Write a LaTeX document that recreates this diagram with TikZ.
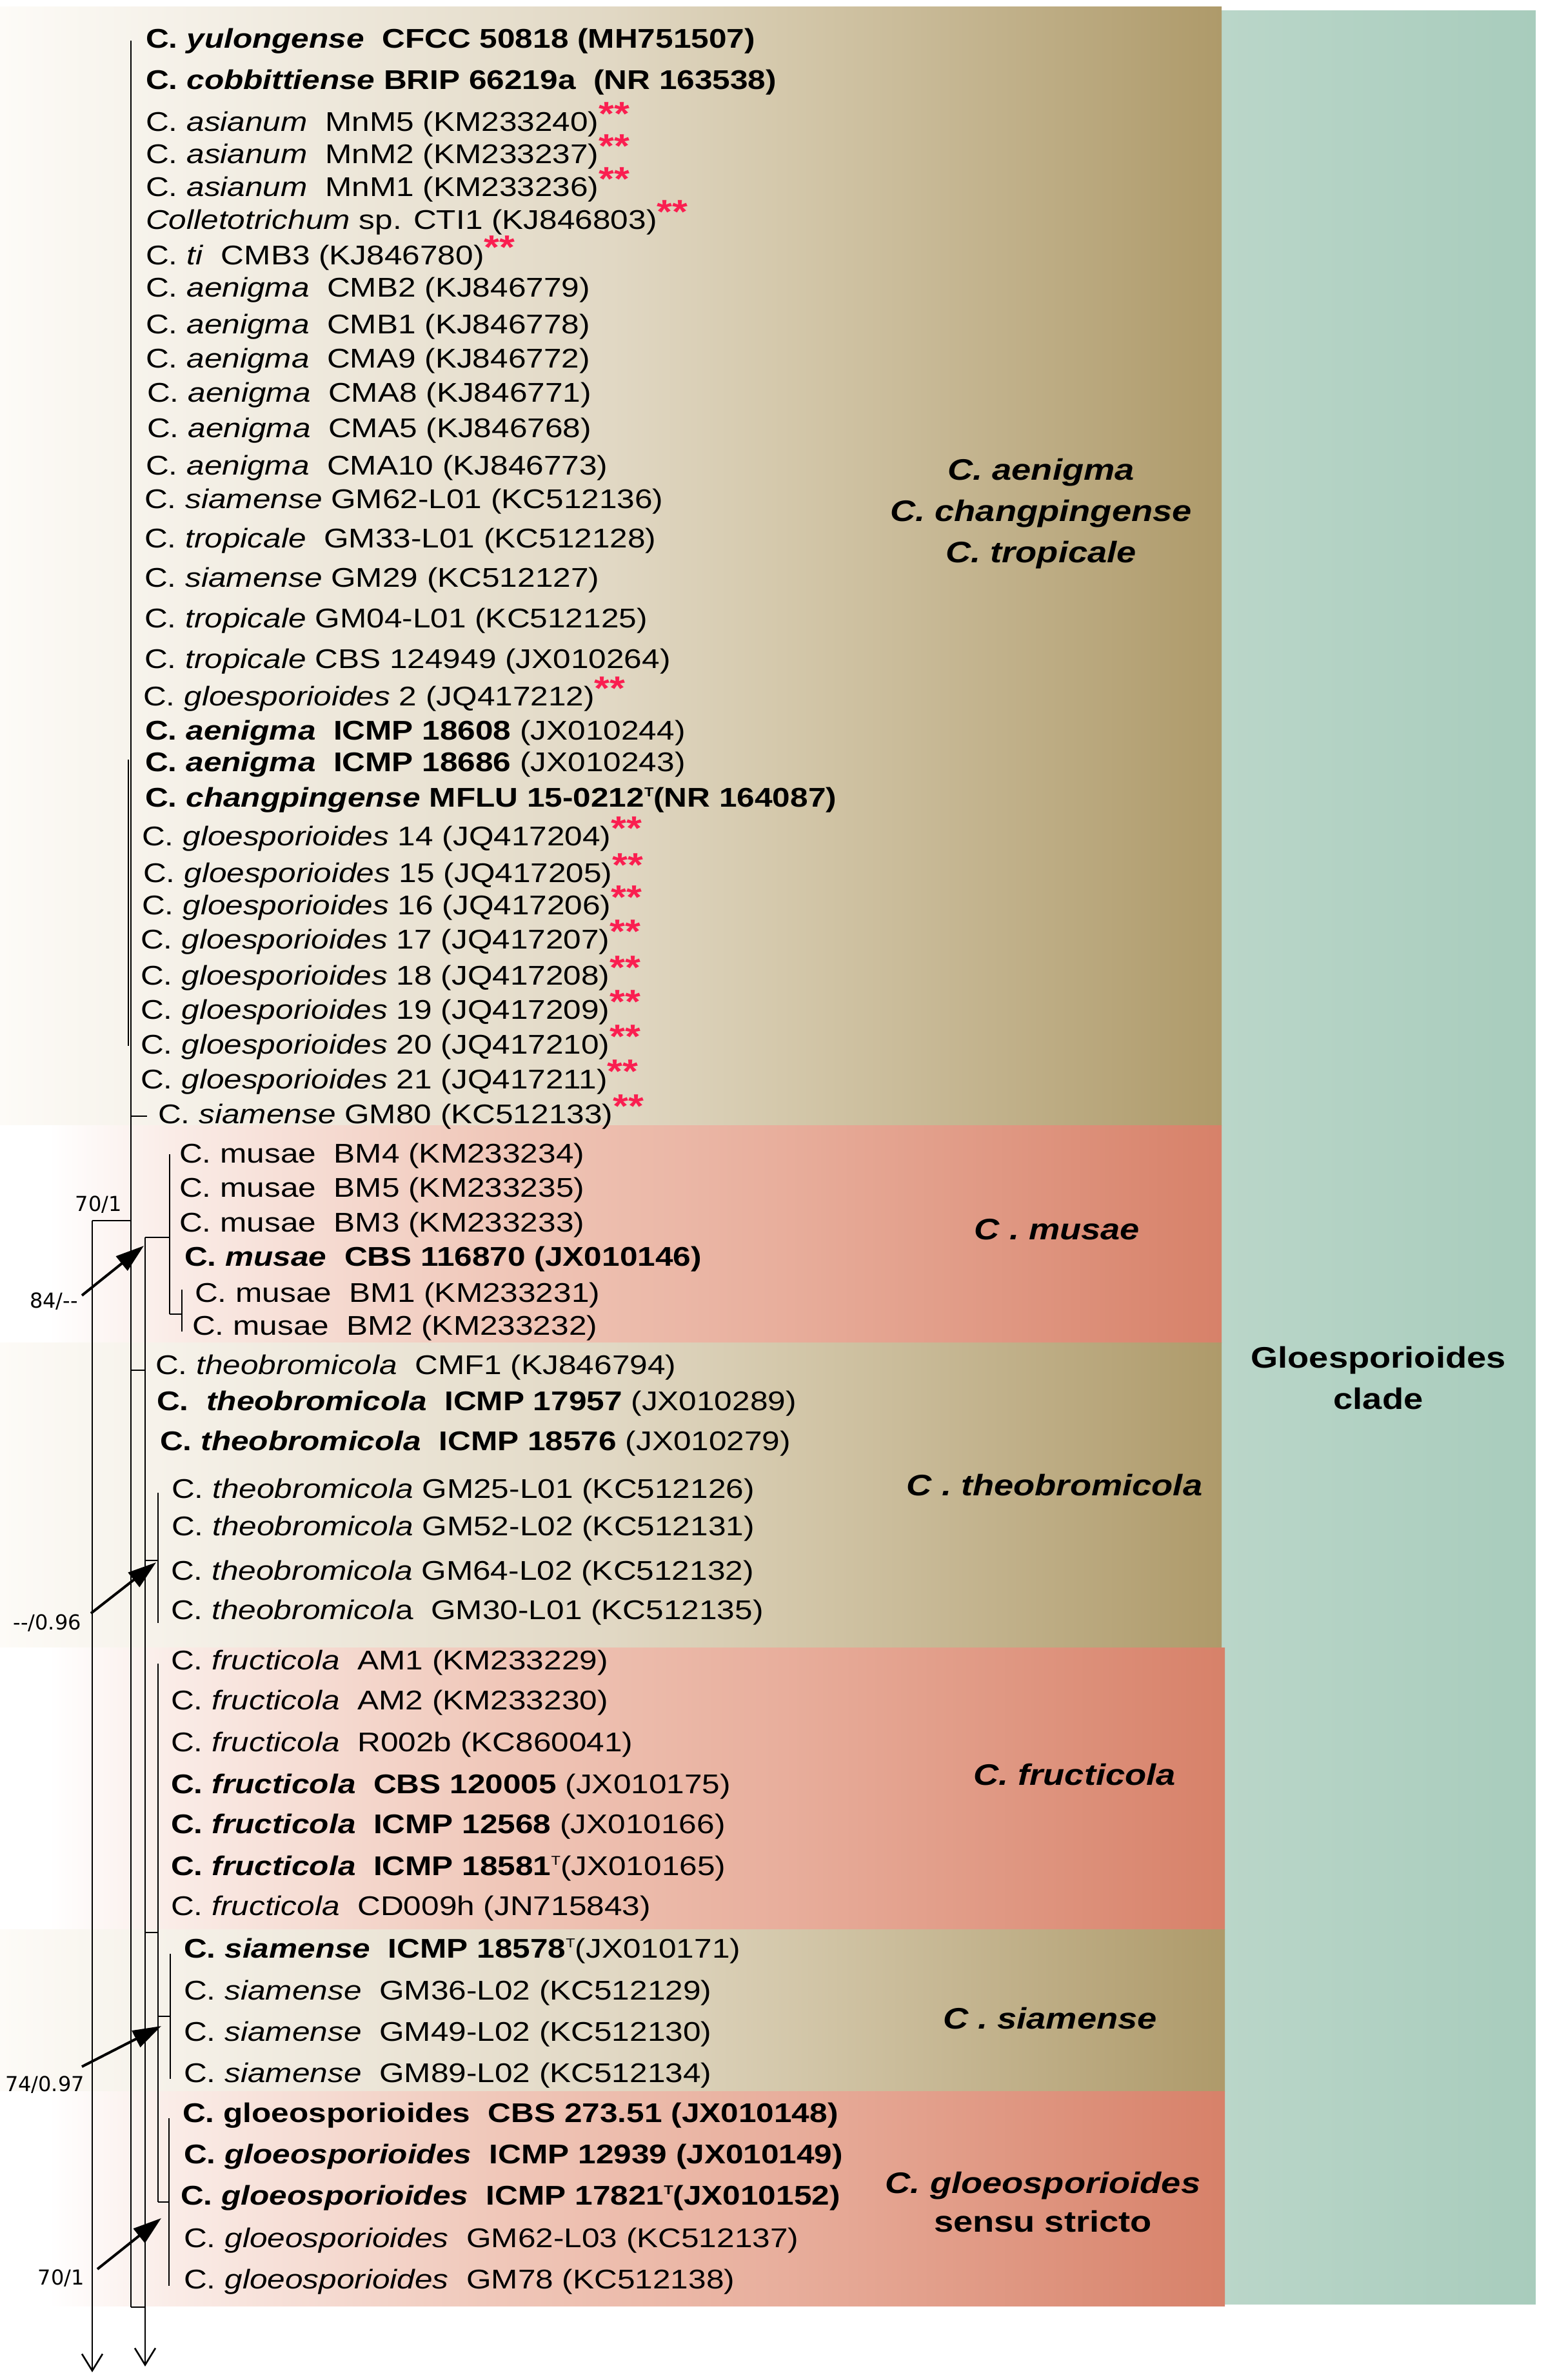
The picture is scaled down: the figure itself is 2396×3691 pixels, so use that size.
\documentclass[tikz,border=0pt]{standalone}
\usepackage{fontspec}
\setmainfont{Liberation Sans}[FakeStretch=1.18]
\newfontfamily\supfont{DejaVu Sans}
\usetikzlibrary{arrows.meta}
\definecolor{tanL}{RGB}{253,251,247}
\definecolor{tanM}{RGB}{225,216,196}
\definecolor{tanN}{RGB}{212,200,171}
\definecolor{tanR}{RGB}{174,154,106}
\definecolor{pinkL}{RGB}{255,255,255}
\definecolor{pinkA}{RGB}{250,236,231}
\definecolor{pinkM}{RGB}{240,200,186}
\definecolor{pinkN}{RGB}{232,174,156}
\definecolor{pinkR}{RGB}{215,129,105}
\definecolor{greenL}{RGB}{186,214,201}
\definecolor{greenR}{RGB}{168,204,188}
\definecolor{starred}{RGB}{250,30,80}
\pgfdeclarehorizontalshading{tanshade}{100bp}{color(0bp)=(tanL); color(25bp)=(tanL); color(50bp)=(tanM); color(57bp)=(tanN); color(75bp)=(tanR); color(100bp)=(tanR)}
\pgfdeclarehorizontalshading{pinkshade}{100bp}{color(0bp)=(pinkL); color(27bp)=(pinkL); color(32bp)=(pinkA); color(45bp)=(pinkM); color(57bp)=(pinkN); color(75bp)=(pinkR); color(100bp)=(pinkR)}
\pgfdeclarehorizontalshading{greenshade}{100bp}{color(0bp)=(greenL); color(25bp)=(greenL); color(75bp)=(greenR); color(100bp)=(greenR)}
\newcommand{\rstar}{\raisebox{9pt}{\fontsize{52}{52}\selectfont\bfseries\color{starred}**}}
\newcommand{\typ}{\raisebox{16pt}{\fontsize{20}{20}\selectfont T}}
\newcommand{\rowfont}{\fontsize{42}{50}\selectfont}
\newcommand{\cladefont}{\fontsize{46}{64}\selectfont\bfseries\itshape}
\tikzset{
  row/.style={anchor=base west, inner sep=0pt, font=\rowfont},
  clade/.style={align=center, inner sep=0pt, font=\cladefont},
  suplabel/.style={anchor=east, inner sep=1pt, font=\supfont\fontsize{32}{36}\selectfont},
  tree/.style={line width=2.6pt, black},
  suparrow/.style={line width=4pt, -{Triangle[length=44pt,width=28pt]}},
  rootarrow/.style={line width=2.6pt, -{Straight Barb[length=26pt,width=32pt,line width=2.6pt]}}
}
\begin{document}
\begin{tikzpicture}[x=1pt,y=-1pt]
\useasboundingbox (0,0) rectangle (2396,3691);
% background bands
\shade[shading=greenshade] (1894,16) rectangle (2381,3573);
\shade[shading=tanshade] (0,10) rectangle (1894,1745);
\shade[shading=pinkshade] (0,1745) rectangle (1894,2082);
\shade[shading=tanshade] (0,2082) rectangle (1894,2555);
\shade[shading=pinkshade] (0,2555) rectangle (1899,2992);
\shade[shading=tanshade] (0,2992) rectangle (1899,3243);
\shade[shading=pinkshade] (0,3243) rectangle (1899,3576);

% tree coordinates
\coordinate (v1t) at (203,63);   \coordinate (v1b) at (203,3578);
\coordinate (v0t) at (199,1178); \coordinate (v0b) at (199,1622);
\coordinate (g80a) at (203,1731); \coordinate (g80b) at (228,1731);
\coordinate (h1a) at (143,1893); \coordinate (h1b) at (203,1893);
\coordinate (v2b) at (143,3679);
\coordinate (v3t) at (225,1919); \coordinate (v3b) at (225,3670);
\coordinate (mua) at (263,1919);
\coordinate (mut) at (263,1790); \coordinate (mub) at (263,2038);
\coordinate (bmh) at (282,2038); \coordinate (bmt) at (282,2000); \coordinate (bmb) at (282,2065);
\coordinate (cmfa) at (203,2125); \coordinate (cmfb) at (225,2125);
\coordinate (tga) at (225,2420); \coordinate (tgb) at (245,2420);
\coordinate (tgt) at (245,2315); \coordinate (tgbot) at (245,2517);
\coordinate (frt) at (245,2580); \coordinate (frb) at (245,3415);
\coordinate (fra) at (225,2997); \coordinate (frc) at (245,2997);
\coordinate (sia) at (245,3127); \coordinate (sib) at (264,3127);
\coordinate (sit) at (264,3030); \coordinate (sibot) at (264,3224);
\coordinate (gla) at (262,3415);
\coordinate (glt) at (262,3285); \coordinate (glb) at (262,3545);
\coordinate (rta) at (203,3578); \coordinate (rtb) at (225,3578);

% tree lines
\draw[tree] (v1t) -- (v1b);
\draw[tree] (v0t) -- (v0b);
\draw[tree] (g80a) -- (g80b);
\draw[tree] (h1a) -- (h1b);
\draw[rootarrow] (h1a) -- (v2b);
\draw[rootarrow] (v3t) -- (v3b);
\draw[tree] (v3t) -- (mua);
\draw[tree] (mut) -- (mub);
\draw[tree] (mub) -- (bmh);
\draw[tree] (bmt) -- (bmb);
\draw[tree] (cmfa) -- (cmfb);
\draw[tree] (tga) -- (tgb);
\draw[tree] (tgt) -- (tgbot);
\draw[tree] (frt) -- (frb);
\draw[tree] (fra) -- (frc);
\draw[tree] (sia) -- (sib);
\draw[tree] (sit) -- (sibot);
\draw[tree] (frb) -- (gla);
\draw[tree] (glt) -- (glb);
\draw[tree] (rta) -- (rtb);

% support labels and arrows
\node[suplabel] (s1) at (190,1868) {70/1};
\node[suplabel] (s2) at (122,2018) {84/--};
\node[suplabel] (s3) at (127,2517) {--/0.96};
\node[suplabel] (s4) at (132,3233) {74/0.97};
\node[suplabel] (s5) at (132,3533) {70/1};
\coordinate (a2s) at (127,2009); \coordinate (a2t) at (223,1932);
\coordinate (a3s) at (141,2502); \coordinate (a3t) at (242,2423);
\coordinate (a4s) at (127,3205); \coordinate (a4t) at (250,3142);
\coordinate (a5s) at (151,3519); \coordinate (a5t) at (250,3440);
\draw[suparrow] (a2s) -- (a2t);
\draw[suparrow] (a3s) -- (a3t);
\draw[suparrow] (a4s) -- (a4t);
\draw[suparrow] (a5s) -- (a5t);

% taxa
\node[row] (r1) at (226,74) {\textbf{C. \textit{yulongense}\ \ CFCC 50818 (MH751507)}};
\node[row] (r2) at (226,138) {\textbf{C. \textit{cobbittiense} BRIP 66219a\ \ (NR 163538)}};
\node[row] (r3) at (226,203) {C. \textit{asianum}\ \ MnM5 (KM233240)\rstar};
\node[row] (r4) at (226,253) {C. \textit{asianum}\ \ MnM2 (KM233237)\rstar};
\node[row] (r5) at (226,304) {C. \textit{asianum}\ \ MnM1 (KM233236)\rstar};
\node[row] (r6) at (226,355) {\textit{Colletotrichum} sp. CTI1 (KJ846803)\rstar};
\node[row] (r7) at (226,410) {C. \textit{ti}\ \ CMB3 (KJ846780)\rstar};
\node[row] (r8) at (226,460) {C. \textit{aenigma}\ \ CMB2 (KJ846779)};
\node[row] (r9) at (226,517) {C. \textit{aenigma}\ \ CMB1 (KJ846778)};
\node[row] (r10) at (226,570) {C. \textit{aenigma}\ \ CMA9 (KJ846772)};
\node[row] (r11) at (228,623) {C. \textit{aenigma}\ \ CMA8 (KJ846771)};
\node[row] (r12) at (228,678) {C. \textit{aenigma}\ \ CMA5 (KJ846768)};
\node[row] (r13) at (226,736) {C. \textit{aenigma}\ \ CMA10 (KJ846773)};
\node[row] (r14) at (224,788) {C. \textit{siamense} GM62-L01 (KC512136)};
\node[row] (r15) at (224,849) {C. \textit{tropicale}\ \ GM33-L01 (KC512128)};
\node[row] (r16) at (224,910) {C. \textit{siamense} GM29 (KC512127)};
\node[row] (r17) at (224,973) {C. \textit{tropicale} GM04-L01 (KC512125)};
\node[row] (r18) at (224,1036) {C. \textit{tropicale} CBS 124949 (JX010264)};
\node[row] (r19) at (222,1094) {C. \textit{gloesporioides} 2 (JQ417212)\rstar};
\node[row] (r20) at (225,1147) {\textbf{C. \textit{aenigma}\ \ ICMP 18608} (JX010244)};
\node[row] (r21) at (225,1196) {\textbf{C. \textit{aenigma}\ \ ICMP 18686} (JX010243)};
\node[row] (r22) at (225,1251) {\textbf{C. \textit{changpingense} MFLU 15-0212\typ(NR 164087)}};
\node[row] (r23) at (220,1311) {C. \textit{gloesporioides} 14 (JQ417204)\rstar};
\node[row] (r24) at (222,1368) {C. \textit{gloesporioides} 15 (JQ417205)\rstar};
\node[row] (r25) at (220,1418) {C. \textit{gloesporioides} 16 (JQ417206)\rstar};
\node[row] (r26) at (218,1471) {C. \textit{gloesporioides} 17 (JQ417207)\rstar};
\node[row] (r27) at (218,1527) {C. \textit{gloesporioides} 18 (JQ417208)\rstar};
\node[row] (r28) at (218,1580) {C. \textit{gloesporioides} 19 (JQ417209)\rstar};
\node[row] (r29) at (218,1634) {C. \textit{gloesporioides} 20 (JQ417210)\rstar};
\node[row] (r30) at (218,1688) {C. \textit{gloesporioides} 21 (JQ417211)\rstar};
\node[row] (r31) at (245,1742) {C. \textit{siamense} GM80 (KC512133)\rstar};
\node[row] (r32) at (278,1803) {C. musae\ \ BM4 (KM233234)};
\node[row] (r33) at (278,1856) {C. musae\ \ BM5 (KM233235)};
\node[row] (r34) at (278,1910) {C. musae\ \ BM3 (KM233233)};
\node[row] (r35) at (286,1963) {\textbf{C. \textit{musae}\ \ CBS 116870 (JX010146)}};
\node[row] (r36) at (302,2019) {C. musae\ \ BM1 (KM233231)};
\node[row] (r37) at (298,2070) {C. musae\ \ BM2 (KM233232)};
\node[row] (r38) at (241,2131) {C. \textit{theobromicola}\ \ CMF1 (KJ846794)};
\node[row] (r39) at (243,2187) {\textbf{C.\ \ \textit{theobromicola}\ \ ICMP 17957} (JX010289)};
\node[row] (r40) at (248,2249) {\textbf{C. \textit{theobromicola}\ \ ICMP 18576} (JX010279)};
\node[row] (r41) at (266,2323) {C. \textit{theobromicola} GM25-L01 (KC512126)};
\node[row] (r42) at (266,2381) {C. \textit{theobromicola} GM52-L02 (KC512131)};
\node[row] (r43) at (265,2450) {C. \textit{theobromicola} GM64-L02 (KC512132)};
\node[row] (r44) at (265,2511) {C. \textit{theobromicol}a\ \ GM30-L01 (KC512135)};
\node[row] (r45) at (265,2589) {C. \textit{fructicola}\ \ AM1 (KM233229)};
\node[row] (r46) at (265,2651) {C. \textit{fructicola}\ \ AM2 (KM233230)};
\node[row] (r47) at (265,2716) {C. \textit{fructicola}\ \ R002b (KC860041)};
\node[row] (r48) at (265,2781) {\textbf{C. \textit{fructicola}\ \ CBS 120005} (JX010175)};
\node[row] (r49) at (265,2843) {\textbf{C. \textit{fructicola}\ \ ICMP 12568} (JX010166)};
\node[row] (r50) at (265,2908) {\textbf{C. \textit{fructicola}\ \ ICMP 18581}\typ(JX010165)};
\node[row] (r51) at (265,2970) {C. \textit{fructicola}\ \ CD009h (JN715843)};
\node[row] (r52) at (285,3036) {\textbf{C. \textit{siamense}\ \ ICMP 18578}\typ(JX010171)};
\node[row] (r53) at (285,3101) {C. \textit{siamense}\ \ GM36-L02 (KC512129)};
\node[row] (r54) at (285,3165) {C. \textit{siamense}\ \ GM49-L02 (KC512130)};
\node[row] (r55) at (285,3229) {C. \textit{siamense}\ \ GM89-L02 (KC512134)};
\node[row] (r56) at (283,3291) {\textbf{C. gloeosporioides\ \ CBS 273.51 (JX010148)}};
\node[row] (r57) at (285,3355) {\textbf{C. \textit{gloeosporioides}\ \ ICMP 12939 (JX010149)}};
\node[row] (r58) at (280,3419) {\textbf{C. \textit{gloeosporioides}\ \ ICMP 17821\typ(JX010152)}};
\node[row] (r59) at (285,3485) {C. \textit{gloeosporioides}\ \ GM62-L03 (KC512137)};
\node[row] (r60) at (285,3549) {C. \textit{gloeosporioides}\ \ GM78 (KC512138)};

% clade labels
\node[clade] (c1) at (1614,797) {C. aenigma\\C. changpingense\\C. tropicale};
\node[clade] (c2) at (1639,1907) {C . musae};
\node[clade] (c3) at (1635,2303) {C . theobromicola};
\node[clade] (c4) at (1666,2752) {C. fructicola};
\node[clade] (c5) at (1628,3130) {C . siamense};
\node[clade, font=\fontsize{46}{60}\selectfont\bfseries] (c6) at (1617,3415) {\textit{C. gloeosporioides}\\sensu stricto};
\node[clade, font=\fontsize{46}{64}\selectfont\bfseries] (c7) at (2137,2137) {Gloesporioides\\clade};
\end{tikzpicture}
\end{document}
